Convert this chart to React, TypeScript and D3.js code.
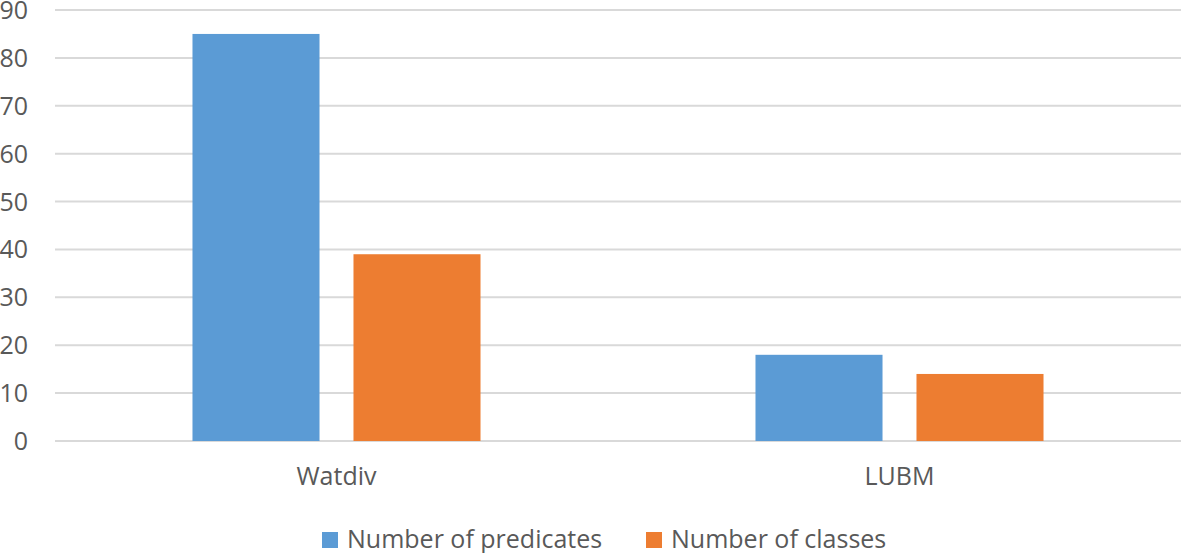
import React from "react";
import * as d3 from "d3";

const categories = ["Watdiv", "LUBM"];
const seriesNames = ["Number of predicates", "Number of classes"];
const predicates = [85, 18];
const classes = [39, 14];
const yTicks = [0, 10, 20, 30, 40, 50, 60, 70, 80, 90];
const colors = ["#5B9BD5", "#ED7D31"];

const W = 1181;
const H = 553;
const left = 55;
const right = 1181;
const top = 10;
const bottom = 441;
const FONT = "'Open Sans', sans-serif";
const TEXT = "#595959";

export default function App() {
  const y = d3.scaleLinear().domain([0, 90]).range([bottom, top]);
  const x0 = d3.scaleBand<string>().domain(categories).range([left, right]).paddingInner(0).paddingOuter(0);
  const x1 = d3
    .scaleBand<string>()
    .domain(seriesNames)
    .range([0, x0.bandwidth()])
    .paddingInner(0.211)
    .paddingOuter(0.854);
  const values = [predicates, classes];

  return (
    <svg width={W} height={H} style={{ position: "absolute", left: 0, top: 0 }} xmlns="http://www.w3.org/2000/svg">
      <rect x={0} y={0} width={W} height={H} fill="#ffffff" />
      {yTicks.map((t) => (
        <g key={t}>
          <line x1={left} x2={right} y1={y(t)} y2={y(t)} stroke="#D9D9D9" strokeWidth={2} />
          <text x={28} y={y(t)} dy="0.36em" textAnchor="end" fontFamily={FONT} fontSize={25} fill={TEXT}>
            {t}
          </text>
        </g>
      ))}
      {categories.map((c, ci) => (
        <g key={c}>
          {seriesNames.map((s, si) => {
            const v = values[si][ci];
            const bx = (x0(c) as number) + (x1(s) as number);
            return (
              <rect key={s} x={bx} y={y(v)} width={x1.bandwidth()} height={y(0) - y(v)} fill={colors[si]} />
            );
          })}
          <text
            x={(x0(c) as number) + x0.bandwidth() / 2}
            y={485}
            textAnchor="middle"
            fontFamily={FONT}
            fontSize={25}
            fill={TEXT}
          >
            {c}
          </text>
        </g>
      ))}
      {seriesNames.map((s, si) => {
        const lx = [322, 646][si];
        return (
          <g key={s}>
            <rect x={lx} y={532} width={16} height={16} fill={colors[si]} />
            <text x={lx + 25} y={548} fontFamily={FONT} fontSize={25} fill={TEXT}>
              {s}
            </text>
          </g>
        );
      })}
    </svg>
  );
}
